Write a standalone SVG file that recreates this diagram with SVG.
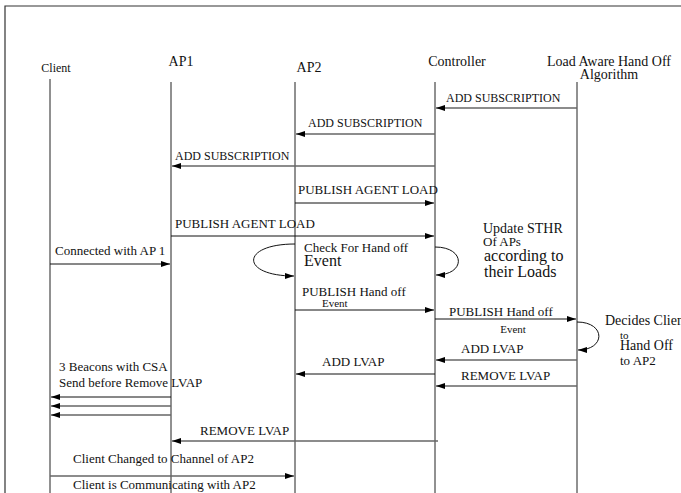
<svg xmlns="http://www.w3.org/2000/svg" width="681" height="493" viewBox="0 0 681 493">
<style>
text{font-family:"Liberation Serif","Times New Roman",serif;fill:#111}
.h{font-size:14px}
.m{font-size:13px}
.s{font-size:12px}
.xs{font-size:11px}
.life{stroke:#222;stroke-width:1;fill:none}
.k{stroke:#111;stroke-width:1;fill:none}
.g{stroke:#666;stroke-width:1.6;fill:none}
</style>
<defs>
<marker id="ah" markerWidth="9" markerHeight="6" refX="9" refY="3" orient="auto" markerUnits="userSpaceOnUse">
<path d="M0,0 L9,3 L0,6 z" fill="#000"/>
</marker>
</defs>
<rect width="681" height="493" fill="#fff"/>
<path d="M5,493 V6 H681" stroke="#333" stroke-width="1.2" fill="none"/>

<g id="client"><text class="s" x="56" y="72" text-anchor="middle">Client</text><line class="life" x1="50" y1="79" x2="50" y2="493"/></g>
<g id="ap1"><text class="h" x="181" y="66" text-anchor="middle">AP1</text><line class="life" x1="171" y1="82" x2="171" y2="493"/></g>
<g id="ap2"><text class="h" x="309" y="72" text-anchor="middle">AP2</text><line class="life" x1="295" y1="82" x2="295" y2="493"/></g>
<g id="controller"><text class="h" x="457" y="66" text-anchor="middle">Controller</text><line class="life" x1="435" y1="82" x2="435" y2="493"/></g>
<g id="lah"><text class="h" x="609" y="66" text-anchor="middle">Load Aware Hand Off</text><text class="h" x="609" y="79" text-anchor="middle">Algorithm</text><line class="life" x1="577" y1="82" x2="577" y2="493"/></g>

<g id="connectors">
<line class="g" x1="577" y1="108" x2="436" y2="108" marker-end="url(#ah)"/>
<line class="g" x1="435" y1="134" x2="296" y2="134" marker-end="url(#ah)"/>
<line class="g" x1="435" y1="166" x2="172" y2="166" marker-end="url(#ah)"/>
<line class="k" x1="295" y1="203" x2="434" y2="203" marker-end="url(#ah)"/>
<line class="k" x1="171" y1="236" x2="434" y2="236" marker-end="url(#ah)"/>
<line class="k" x1="50" y1="264" x2="170" y2="264" marker-end="url(#ah)"/>
<path class="k" d="M295,244 C240,244 240,276 294,276" marker-end="url(#ah)"/>
<path class="k" d="M435,247 C466,247 466,275 436,275" marker-end="url(#ah)"/>
<line class="k" x1="295" y1="310" x2="434" y2="310" marker-end="url(#ah)"/>
<line class="k" x1="435" y1="319" x2="576" y2="319" marker-end="url(#ah)"/>
<path class="k" d="M577,322 C606,322 606,350 578,350" marker-end="url(#ah)"/>
<line class="g" x1="577" y1="360" x2="436" y2="360" marker-end="url(#ah)"/>
<line class="k" x1="435" y1="374" x2="296" y2="374" marker-end="url(#ah)"/>
<line class="g" x1="577" y1="386" x2="436" y2="386" marker-end="url(#ah)"/>
<line class="k" x1="171" y1="397" x2="51" y2="397" marker-end="url(#ah)"/>
<line class="g" x1="171" y1="406" x2="51" y2="406" marker-end="url(#ah)"/>
<line class="g" x1="171" y1="415" x2="51" y2="415" marker-end="url(#ah)"/>
<line class="g" x1="438" y1="441" x2="172" y2="441" marker-end="url(#ah)"/>
<line class="g" x1="50" y1="476" x2="294" y2="476" marker-end="url(#ah)"/>
</g>

<g id="labels">
<text class="s" x="446" y="102">ADD SUBSCRIPTION</text>
<text class="s" x="308" y="127">ADD SUBSCRIPTION</text>
<text class="s" x="175" y="160">ADD SUBSCRIPTION</text>
<text class="m" x="298" y="194">PUBLISH AGENT LOAD</text>
<text class="m" x="175" y="228">PUBLISH AGENT LOAD</text>
<text class="m" x="55" y="255">Connected with AP 1</text>
<text class="m" x="304" y="252">Check For Hand off</text>
<text x="304" y="266" style="font-size:16px">Event</text>
<text class="h" x="483" y="233">Update STHR</text>
<text class="m" x="483" y="246">Of APs</text>
<text x="484" y="261" style="font-size:16px">according to</text>
<text x="484" y="277" style="font-size:16px">their Loads</text>
<text class="m" x="302" y="296">PUBLISH Hand off</text>
<text class="xs" x="322" y="307">Event</text>
<text class="m" x="449" y="316">PUBLISH Hand off</text>
<text class="xs" x="513" y="333" text-anchor="middle">Event</text>
<text class="h" x="605" y="325">Decides Client</text>
<text class="xs" x="620" y="339">to</text>
<text class="h" x="620" y="350">Hand Off</text>
<text class="m" x="620" y="365">to AP2</text>
<text class="m" x="461" y="353">ADD LVAP</text>
<text class="m" x="322" y="366">ADD LVAP</text>
<text class="m" x="461" y="380">REMOVE LVAP</text>
<text class="m" x="59" y="371">3 Beacons with CSA</text>
<text class="m" x="59" y="387">Send before Remove LVAP</text>
<text class="m" x="200" y="435">REMOVE LVAP</text>
<text class="m" x="73" y="463">Client Changed to Channel of AP2</text>
<text class="m" x="73" y="489">Client is Communicating with AP2</text>
</g>
</svg>
